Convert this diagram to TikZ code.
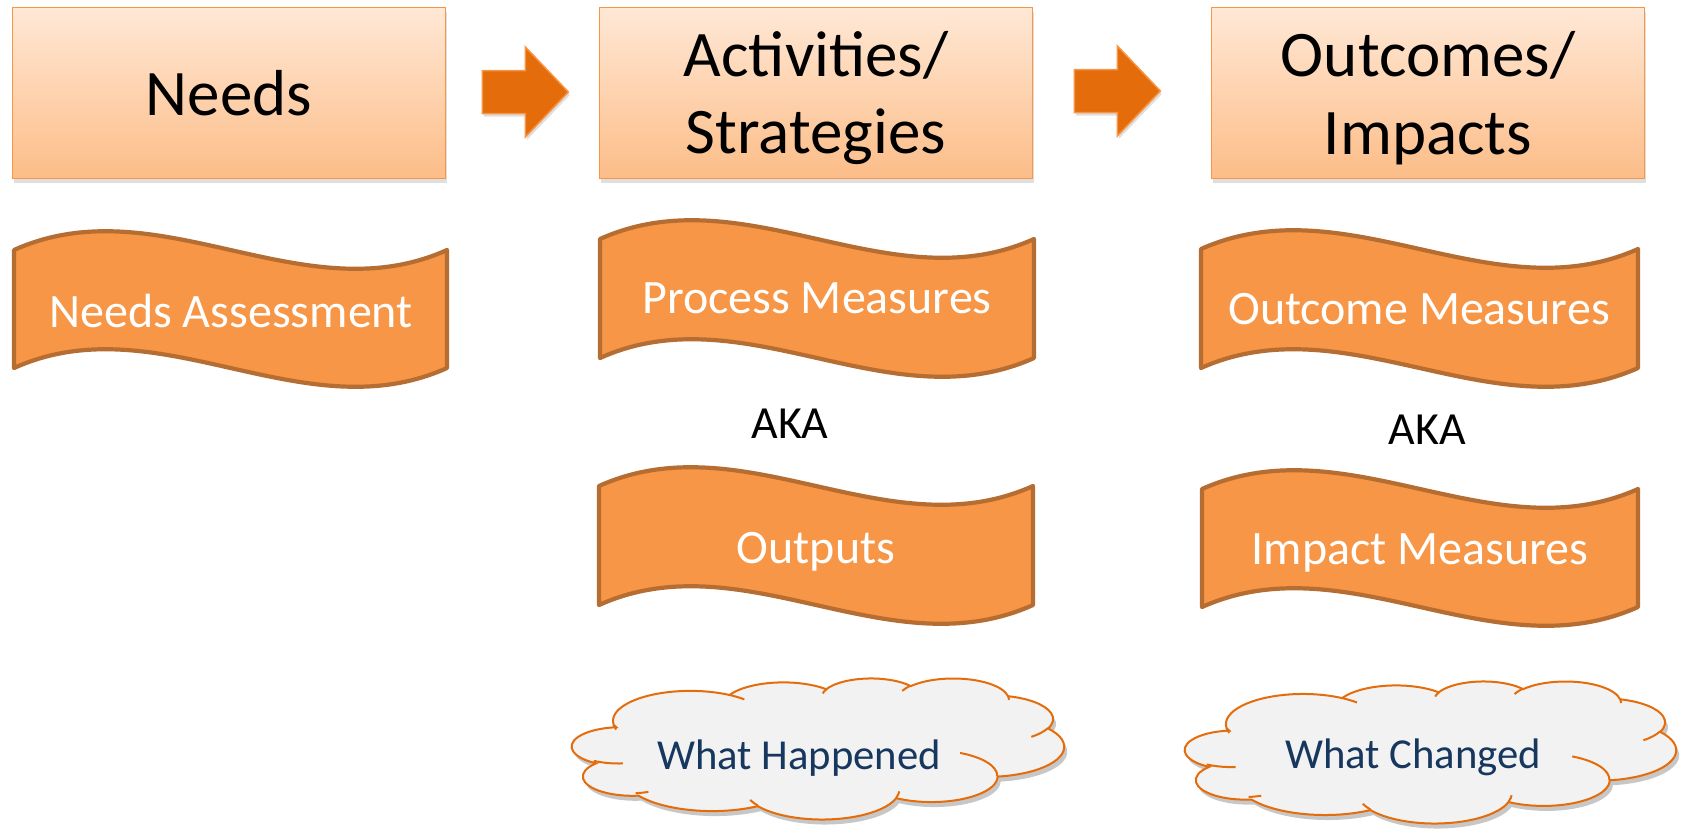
\documentclass[tikz,border=0pt]{standalone}
\usepackage{fontspec}
\setmainfont{Carlito}
\usetikzlibrary{shadows,calc}
\definecolor{boxtop}{HTML}{FFE8D6}
\definecolor{boxbot}{HTML}{FCBD88}
\definecolor{boxline}{HTML}{F79646}
\definecolor{arrowfill}{HTML}{E46C0A}
\definecolor{wavefill}{HTML}{F79646}
\definecolor{waveline}{HTML}{B66D31}
\definecolor{cloudfill}{HTML}{F2F2F2}
\definecolor{cloudline}{HTML}{E46C0A}
\definecolor{cloudtext}{HTML}{17375E}

% OOXML arcTo (visual angles) -> TikZ parametric arc
\tikzset{
  oarc/.code n args={4}{%
    \pgfmathsetmacro\ootA{atan2(sin(#3)/(#2),cos(#3)/(#1))}%
    \pgfmathsetmacro\ootB{atan2(sin(#3+#4)/(#2),cos(#3+#4)/(#1))}%
    \pgfmathsetmacro\ootB{\ootA+mod(mod(\ootB-\ootA,360)+360,360)}%
    \pgfkeysalso{/tikz/start angle=\ootA,/tikz/end angle=\ootB,/tikz/x radius=#1,/tikz/y radius=#2}%
  },
}

\newcommand\cloudpath{%
 (3.900,14.370) arc[oarc={6.753}{9.190}{-190.48748}{123.78053}]
 arc[oarc={5.333}{7.267}{-144.10238}{89.94523}]
 arc[oarc={4.365}{5.945}{-145.80792}{99.72302}]
 arc[oarc={4.857}{6.595}{-130.98607}{117.24173}]
 arc[oarc={5.333}{7.273}{-78.70888}{109.02692}]
 arc[oarc={6.775}{9.220}{-46.26725}{130.269}]
 arc[oarc={5.785}{7.867}{0.62502}{114.03333}]
 arc[oarc={6.752}{9.215}{22.4516}{115.17255}]
 arc[oarc={7.720}{10.543}{66.24263}{71.62443}]
 arc[oarc={4.360}{5.918}{-274.94208}{146.73557}]
 arc[oarc={4.345}{5.945}{-246.8285}{152.51885}] -- cycle}

\newcommand\creasepath{%
 (4.693,26.177) arc[oarc={4.345}{5.945}{86.742}{26.4295}]
 (6.928,34.899) arc[oarc={4.360}{5.918}{73.61047}{11.44747}]
 (16.478,39.090) arc[oarc={6.752}{9.215}{137.62415}{14.0811}]
 (28.827,34.751) arc[oarc={6.752}{9.215}{6.45327}{15.99835}]
 (34.129,22.954) arc[oarc={5.785}{7.867}{-70.29235}{70.91737}]
 (41.798,15.354) arc[oarc={5.333}{7.273}{30.31803}{27.7515}]
 (38.324,5.426) arc[oarc={4.857}{6.595}{-13.74433}{14.8589}]
 (29.078,3.952) arc[oarc={4.857}{6.595}{-149.18145}{18.19537}]
 (22.141,4.720) arc[oarc={4.365}{5.945}{-163.49427}{17.68635}]
 (14.000,5.192) arc[oarc={6.753}{9.190}{-66.70695}{12.31935}]
 (4.127,15.789) arc[oarc={6.753}{9.190}{157.65435}{11.85817}]}

% cloud: x0 y0 W H
\newcommand\drawcloud[4]{%
  \begin{scope}[shift={({#1+3},{#2+5})}, x=1pt, y=1pt, xscale=#3/43.2, yscale=-#4/43.2]
    \fill[black, opacity=0.22] \cloudpath;
  \end{scope}
  \begin{scope}[shift={(#1,#2)}, x=1pt, y=1pt, xscale=#3/43.2, yscale=-#4/43.2]
    \filldraw[cloudshape] \cloudpath;
    \draw[cloudshape, fill=none] \creasepath;
  \end{scope}}

% wave: L R T B
\newcommand\wavepath[4]{%
 (#1,#3) .. controls ({#1+(#2-#1)/3},{#3-65}) and ({#1+2*(#2-#1)/3},{#3+65}) .. (#2,#3)
 -- (#2,#4) .. controls ({#1+2*(#2-#1)/3},{#4+65}) and ({#1+(#2-#1)/3},{#4-65}) .. (#1,#4) -- cycle}

\begin{document}
\begin{tikzpicture}[x=1pt,y=-1pt,
  topbox/.style={rectangle, draw=boxline, line width=1.8pt, top color=boxtop, bottom color=boxbot,
    minimum width=433pt, minimum height=171pt, inner sep=0pt,
    drop shadow={opacity=0.25, shadow xshift=1.5pt, shadow yshift=-4pt}},
  bigtext/.style={font=\fontsize{65}{77}\selectfont, text=black, inner sep=0pt, anchor=base},
  wavestyle/.style={fill=wavefill, draw=waveline, line width=4.2pt, line join=round},
  wavetext/.style={font=\fontsize{48}{57}\selectfont, text=white, inner sep=0pt, anchor=base},
  akatext/.style={font=\fontsize{46}{55}\selectfont, text=black, inner sep=0pt, anchor=base},
  cloudtextstyle/.style={font=\fontsize{42.7}{51}\selectfont, text=cloudtext, inner sep=0pt, anchor=base},
  cloudshape/.style={fill=cloudfill, draw=cloudline, line width=2pt},
  arrowstyle/.style={fill=arrowfill, draw=boxline, line width=1.5pt,
    drop shadow={opacity=0.25, shadow xshift=1.5pt, shadow yshift=-3pt}},
  blockarrow/.pic={\draw[arrowstyle] (-43,-21.5) -- (0,-21.5) -- (0,-45) -- (43,0) -- (0,45) -- (0,21.5) -- (-43,21.5) -- cycle;},
]
\fill[white] (0,0) rectangle (1686,828);
\useasboundingbox (0,0) rectangle (1686,828);

% top boxes
\node[topbox] (needs) at (229,93) {};
\node[topbox] (act) at (816,93) {};
\node[topbox] (outc) at (1428,93) {};

\node[bigtext] (needsT) at (229,115) {Needs};
\node[bigtext] (actA) at (816,76) {Activities/};
\node[bigtext] (actB) at (816,153) {Strategies};
\node[bigtext] (outA) at (1428,76) {Outcomes/};
\node[bigtext] (outB) at (1428,154) {Impacts};

% block arrows
\pic at ($(needs.east)+(79,-1)$) {blockarrow};
\pic at ($(act.east)+(84,-2)$) {blockarrow};

% waves
\draw[wavestyle] \wavepath{14}{447}{250}{368};
\draw[wavestyle] \wavepath{600}{1034}{239}{358};
\draw[wavestyle] \wavepath{1201}{1638}{249}{368};
\draw[wavestyle] \wavepath{599}{1033}{486}{605};
\draw[wavestyle] \wavepath{1202}{1638}{489}{607};

\node[wavetext] (na) at (231,327) {Needs Assessment};
\node[wavetext] (pm) at (817,313) {Process Measures};
\node[wavetext] (om) at (1419,324) {Outcome Measures};
\node[wavetext] (op) at (816,563) {Outputs};
\node[wavetext] (im) at (1420,564) {Impact Measures};

\node[akatext] (aka1) at (790,438) {AKA};
\node[akatext] (aka2) at (1427,444) {AKA};

% clouds
\drawcloud{569}{678}{495}{141}
\drawcloud{1182}{681}{494}{142}
\node[cloudtextstyle] (wh) at (799,769) {What Happened};
\node[cloudtextstyle] (wc) at (1413,768) {What Changed};
\end{tikzpicture}
\end{document}
